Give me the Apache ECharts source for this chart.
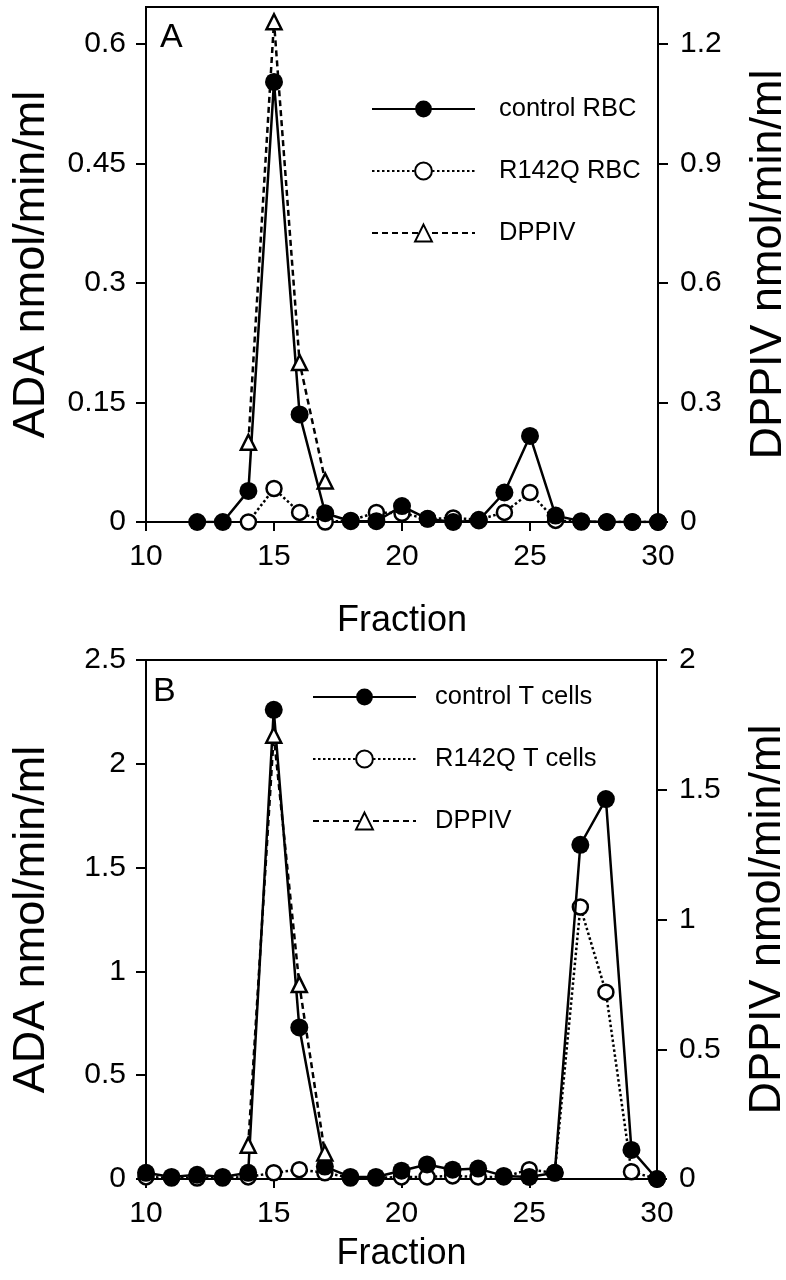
<!DOCTYPE html>
<html>
<head>
<meta charset="utf-8">
<script src="https://cdn.jsdelivr.net/npm/echarts@6/dist/echarts.min.js"></script>
<style>
html,body{margin:0;padding:0;background:#fff;}
#chart{width:786px;height:1280px;}
</style>
</head>
<body>
<div id="chart"></div>
<script>
// ---- Panel A data (RBC) ----
const fractionsA = [12,13,14,15,16,17,18,19,20,21,22,23,24,25,26,27,28,29,30];
const controlRBC = [0,0,0.039,0.552,0.135,0.011,0.001,0.001,0.02,0.004,0,0.002,0.037,0.108,0.008,0.001,0,0,0];
const fractionsA_R = [14,15,16,17,18,19,20,21,22,23,24,25,26,27,28,29,30];
const r142qRBC = [0,0.042,0.012,0,0.002,0.012,0.011,0.004,0.005,0.003,0.012,0.037,0.002,0,0,0,0];
const fractionsA_D = [14,15,16,17];
const dppivA = [0.2,1.255,0.40,0.103];

// ---- Panel B data (T cells) ----
const fractionsB = [10,11,12,13,14,15,16,17,18,19,20,21,22,23,24,25,26,27,28,29,30];
const controlT = [0.03,0.01,0.02,0.01,0.03,2.26,0.73,0.06,0.01,0.01,0.04,0.07,0.045,0.05,0.015,0.01,0.03,1.61,1.83,0.14,0];
const r142qT = [0.01,0.005,0.005,0.005,0.01,0.03,0.045,0.03,0.005,0.005,0.01,0.01,0.015,0.01,0.01,0.045,0.03,1.31,0.9,0.035,0];
const fractionsB_D = [14,15,16,17];
const dppivB = [0.13,1.71,0.75,0.10];

const pair = (xs, ys) => xs.map((x, i) => [x, ys[i]]);

const FONT = '"Liberation Sans", Arial, Helvetica, sans-serif';
const black = '#000';
const LW = 2.5;

function xAxis(gridIndex, nameGap) {
  return {
    type: 'value', gridIndex, min: 10, max: 30, interval: 5,
    name: 'Fraction', nameLocation: 'middle', nameGap,
    nameTextStyle: {fontSize: 36, color: black, fontFamily: FONT},
    axisLine: {show: true, onZero: false, lineStyle: {color: black, width: 2}},
    axisTick: {show: true, inside: false, length: 9, lineStyle: {color: black, width: 2}},
    axisLabel: {fontSize: 30, color: black, fontFamily: FONT, margin: 20},
    splitLine: {show: false}
  };
}
function yAxis(gridIndex, pos, min, max, interval, name, nameGap, margin) {
  return {
    type: 'value', gridIndex, position: pos, min, max, interval,
    name, nameLocation: 'middle', nameGap, nameRotate: 90,
    nameTextStyle: {fontSize: 45, color: black, fontFamily: FONT},
    axisLine: {show: true, onZero: false, lineStyle: {color: black, width: 2}},
    axisTick: {show: true, inside: false, length: 10, lineStyle: {color: black, width: 2}},
    axisLabel: {fontSize: 30, color: black, fontFamily: FONT, margin,
      showMaxLabel: Math.abs(max / interval - Math.round(max / interval)) < 1e-6},
    splitLine: {show: false}
  };
}

const filled = (name, data, xi, yi) => ({
  name, type: 'line', data, xAxisIndex: xi, yAxisIndex: yi,
  symbol: 'circle', symbolSize: 18, z: 4,
  lineStyle: {color: black, width: LW, type: 'solid'},
  itemStyle: {color: black, borderColor: black, borderWidth: 0}
});
const open = (name, data, xi, yi) => ({
  name, type: 'line', data, xAxisIndex: xi, yAxisIndex: yi,
  symbol: 'circle', symbolSize: 15, z: 3,
  lineStyle: {color: black, width: LW, type: [2.5, 2.5]},
  itemStyle: {color: '#fff', borderColor: black, borderWidth: 2.5}
});
const tri = (name, data, xi, yi) => ({
  name, type: 'line', data, xAxisIndex: xi, yAxisIndex: yi,
  symbol: 'triangle', symbolSize: 15, z: 5,
  lineStyle: {color: black, width: LW, type: [6, 4]},
  itemStyle: {color: '#fff', borderColor: black, borderWidth: 2.5}
});

function legend(data, left, top, pad) {
  return {
    data, left, top, orient: 'vertical', selectedMode: false,
    itemWidth: 103, itemHeight: 21, itemGap: 36,
    textStyle: {fontSize: 25.5, color: black, fontFamily: FONT, padding: [0, 0, 0, pad]}
  };
}

const gridBase = {left: 146, show: true, borderColor: black, borderWidth: 2, backgroundColor: 'transparent', outerBoundsMode: 'none', containLabel: false};

const chart = echarts.init(document.getElementById('chart'), null, {renderer: 'canvas'});
chart.setOption({
  animation: false,
  backgroundColor: '#fff',
  grid: [
    Object.assign({}, gridBase, {right: 128, top: 7, height: 515}),
    Object.assign({}, gridBase, {right: 129, top: 660, height: 519})
  ],
  xAxis: [xAxis(0, 81), xAxis(1, 57)],
  yAxis: [
    yAxis(0, 'left', 0, 0.646, 0.15, 'ADA nmol/min/ml', 92, 20),
    yAxis(0, 'right', 0, 1.292, 0.3, 'DPPIV nmol/min/ml', 88, 22),
    yAxis(1, 'left', 0, 2.5, 0.5, 'ADA nmol/min/ml', 92, 20),
    yAxis(1, 'right', 0, 2, 0.5, 'DPPIV nmol/min/ml', 88, 22)
  ],
  legend: [
    legend(['control RBC', 'R142Q RBC', 'DPPIV'], 366, 91, 19),
    legend(['control T cells', 'R142Q T cells', 'DPPIV'], 307, 679, 14)
  ],
  graphic: [
    {type: 'text', left: 160, top: 21, style: {text: 'A', fontSize: 34, fill: black, fontFamily: FONT}},
    {type: 'text', left: 153, top: 675, style: {text: 'B', fontSize: 34, fill: black, fontFamily: FONT}}
  ],
  series: [
    open('R142Q RBC', pair(fractionsA_R, r142qRBC), 0, 0),
    filled('control RBC', pair(fractionsA, controlRBC), 0, 0),
    tri('DPPIV', pair(fractionsA_D, dppivA), 0, 1),
    open('R142Q T cells', pair(fractionsB, r142qT), 1, 2),
    filled('control T cells', pair(fractionsB, controlT), 1, 2),
    tri('DPPIV', pair(fractionsB_D, dppivB), 1, 3)
  ]
});
</script>
</body>
</html>
